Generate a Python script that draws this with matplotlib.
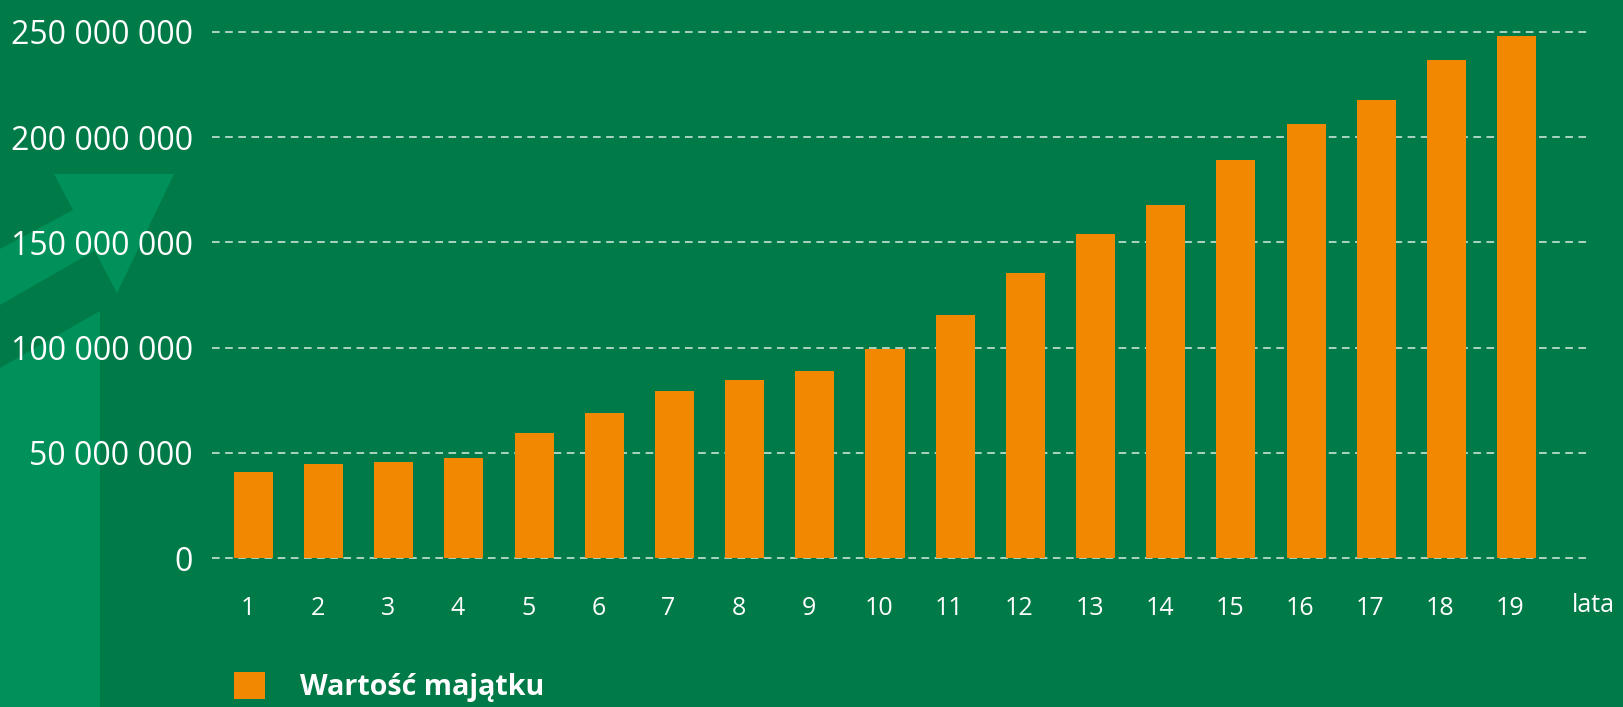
import matplotlib
matplotlib.use('Agg')
import matplotlib.pyplot as plt
import matplotlib.transforms as mtransforms
from matplotlib.patches import Polygon
from matplotlib.ticker import FuncFormatter

# dane
lata = list(range(1, 20))
wartosc_majatku = [41.0, 44.8, 45.7, 47.6, 59.5, 69.0, 79.4, 84.6, 89.1, 99.4,
                   115.6, 135.3, 154.0, 167.8, 189.0, 206.2, 217.5, 236.5, 247.9]
wartosc_majatku = [v * 1e6 for v in wartosc_majatku]
y_ticks = [0, 50e6, 100e6, 150e6, 200e6, 250e6]
legend_label = 'Wartość majątku'

bg = '#007A47'
light = '#00915A'
orange = '#F18800'

plt.rcParams['font.family'] = ['Open Sans', 'DejaVu Sans']

W, H = 1624, 707
fig = plt.figure(figsize=(W / 100, H / 100), dpi=100, facecolor=bg)


def px(x, y):
    return (x / W, 1 - y / H)


# dekoracja po lewej (strzałka)
shapes = [
    [(0, 368), (100, 311), (100, 707), (0, 707)],
    [(0, 249), (75, 209), (94, 251), (0, 305)],
    [(54, 174), (174, 174), (117, 293)],
]
for s in shapes:
    fig.patches.append(Polygon([px(*p) for p in s], closed=True, transform=fig.transFigure,
                               facecolor=light, edgecolor='none', zorder=-5))

ax = fig.add_axes([212 / W, (H - 558.3) / H, (1590 - 212) / W, (558.3 - 31.8) / H])
ax.set_facecolor('none')
ax.patch.set_alpha(0)

bars = ax.bar(lata, wartosc_majatku, width=0.556, color=orange, zorder=3)

ax.set_xlim(0.409, 20.047)
ax.set_ylim(0, 250e6)
ax.set_yticks(y_ticks)
ax.yaxis.set_major_formatter(FuncFormatter(lambda v, p: f'{int(v):,}'.replace(',', ' ')))
ax.set_xticks(lata)
ax.set_xticklabels([str(i) for i in lata])

for yv in y_ticks:
    ax.axhline(yv, color='white', alpha=0.85, linewidth=1.1, dashes=(5, 3.6), zorder=1, clip_on=False)

for sp in ax.spines.values():
    sp.set_visible(False)

ax.tick_params(axis='y', length=0, pad=13.7, labelsize=23, labelcolor='white')
ax.tick_params(axis='x', length=0, pad=27, labelsize=18, labelcolor='white')
offset = mtransforms.ScaledTranslation(-6 / 100, 0, fig.dpi_scale_trans)
for lbl in ax.get_xticklabels():
    lbl.set_transform(lbl.get_transform() + offset)

fig.text(1593 / W, 1 - 606 / H, 'lata', color='white', fontsize=18, ha='center', va='center')

leg = fig.legend([bars], [legend_label], loc='center left', bbox_to_anchor=(234 / W, 1 - 687 / H),
                 frameon=False, borderpad=0, borderaxespad=0, handlelength=1.1, handleheight=1.1,
                 handletextpad=1.2, prop={'weight': 'bold', 'size': 20.6})
for t in leg.get_texts():
    t.set_color('white')

fig.savefig('out.png', dpi=100, facecolor=bg)
